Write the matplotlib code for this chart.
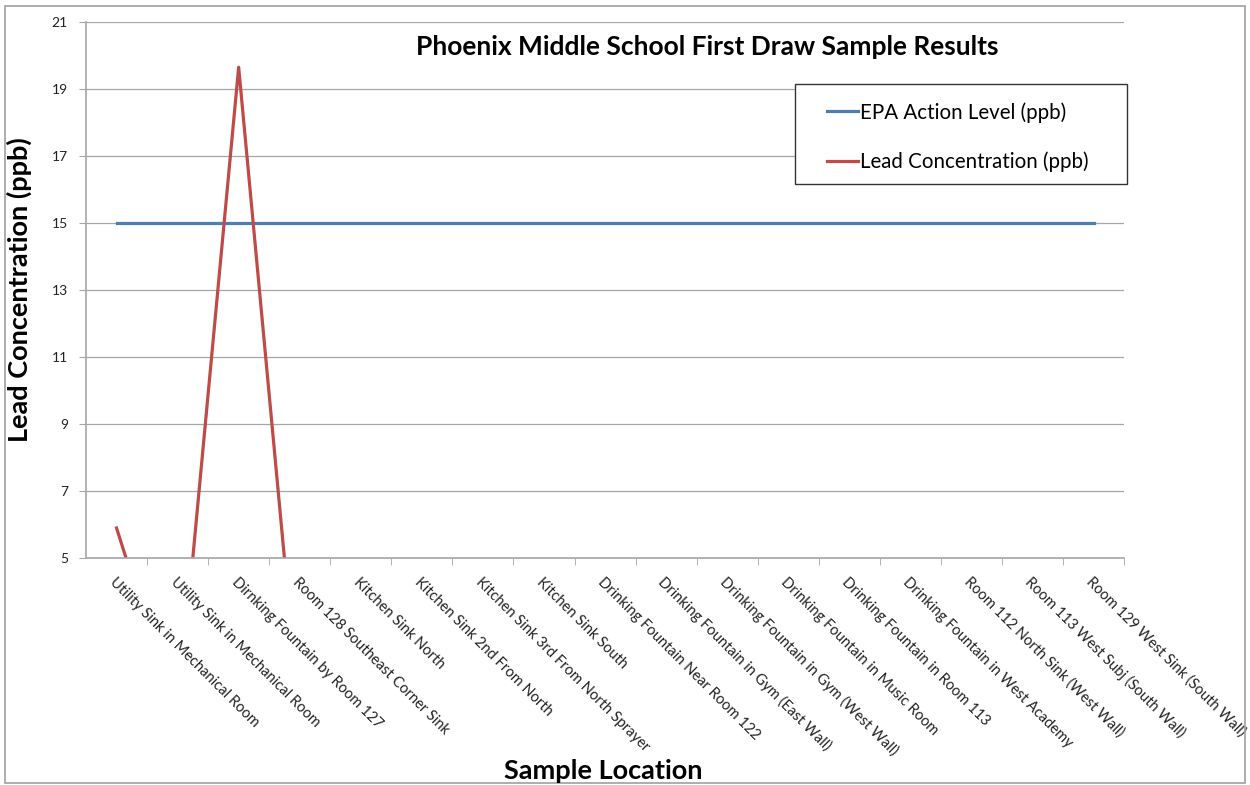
import matplotlib
matplotlib.use("Agg")
import matplotlib.pyplot as plt
from matplotlib.patches import Rectangle

plt.rcParams['font.family'] = ['Lato', 'DejaVu Sans']

locations = [
    "Utility Sink in Mechanical Room",
    "Utility Sink in Mechanical Room",
    "Dirnking Fountain by Room 127",
    "Room 128 Southeast Corner Sink",
    "Kitchen Sink North",
    "Kitchen Sink 2nd From North",
    "Kitchen Sink 3rd From North Sprayer",
    "Kitchen Sink South",
    "Drinking Fountain Near Room 122",
    "Drinking Fountain in Gym (East Wall)",
    "Drinking Fountain in Gym (West Wall)",
    "Drinking Fountain in Music Room",
    "Drinking Fountain in Room 113",
    "Drinking Fountain in West Academy",
    "Room 112 North Sink (West Wall)",
    "Room 113 West Subj (South Wall)",
    "Room 129 West Sink (South Wall)",
]
epa_level = [15] * len(locations)
# values under 5 ppb are cut off by the axis, estimated
lead_ppb = [5.9, 0.15, 19.65, 0.1, 0.5, 0.5, 0.5, 0.5, 0.5,
            0.5, 0.5, 0.5, 0.5, 0.5, 0.5, 0.5, 0.5]
y_ticks = [5, 7, 9, 11, 13, 15, 17, 19, 21]

blue = "#4a7ebb"
red = "#be4b48"
grid_col = "#a6a6a6"

fig = plt.figure(figsize=(12.5, 7.85), dpi=100)
fig.patches.append(Rectangle((0.004, 0.002), 0.992, 0.99, transform=fig.transFigure,
                             fill=False, edgecolor="#a0a0a0", linewidth=1.2))
ax = fig.add_axes([0.0688, 0.289, 0.8305, 0.683])

x = list(range(len(locations)))
ax.plot(x, epa_level, color=blue, lw=2.3, label="EPA Action Level (ppb)")
ax.plot(x, lead_ppb, color=red, lw=2.3, label="Lead Concentration (ppb)")

ax.set_xlim(-0.5, len(locations) - 0.5)
ax.set_ylim(5, 21)
ax.set_yticks(y_ticks)
ax.tick_params(axis='y', labelsize=10, length=5, color=grid_col, pad=8, labelcolor="#222222")
ax.yaxis.grid(True, color=grid_col, lw=0.9)
ax.set_axisbelow(True)

ax.set_xticks(x)
ax.set_xticklabels(locations, rotation=-45, ha='left', rotation_mode='anchor',
                   fontsize=10.5, color="#222222")
ax.tick_params(axis='x', which='major', length=0, pad=12)
ax.set_xticks([i + 0.5 for i in x], minor=True)
ax.tick_params(axis='x', which='minor', length=5, color=grid_col)

for s in ['top', 'right']:
    ax.spines[s].set_visible(False)
for s in ['left', 'bottom']:
    ax.spines[s].set_color(grid_col)
    ax.spines[s].set_linewidth(1.2)

ax.set_ylabel("Lead Concentration (ppb)", fontsize=19.5, fontweight='bold', labelpad=14)
fig.text(0.483, 0.018, "Sample Location", fontsize=19.5, fontweight='bold', ha='center', va='center')
fig.text(0.566, 0.94, "Phoenix Middle School First Draw Sample Results",
         fontsize=19, fontweight='bold', ha='center', va='center')

# legend box drawn separately (wider side padding than matplotlib's)
fig.patches.append(Rectangle((0.636, 0.7656), 0.2656, 0.1274, transform=fig.transFigure,
                             fill=True, facecolor="white", edgecolor="#333333",
                             linewidth=1.0, zorder=5))
leg = fig.legend(*ax.get_legend_handles_labels(), loc='upper left',
                 bbox_to_anchor=(0.6616, 0.870), bbox_transform=fig.transFigure,
                 fontsize=14.8, frameon=False, handlelength=1.5, handletextpad=0.1,
                 labelspacing=1.4, borderpad=0, borderaxespad=0)
leg.set_zorder(6)

fig.savefig("out.png", dpi=100)
